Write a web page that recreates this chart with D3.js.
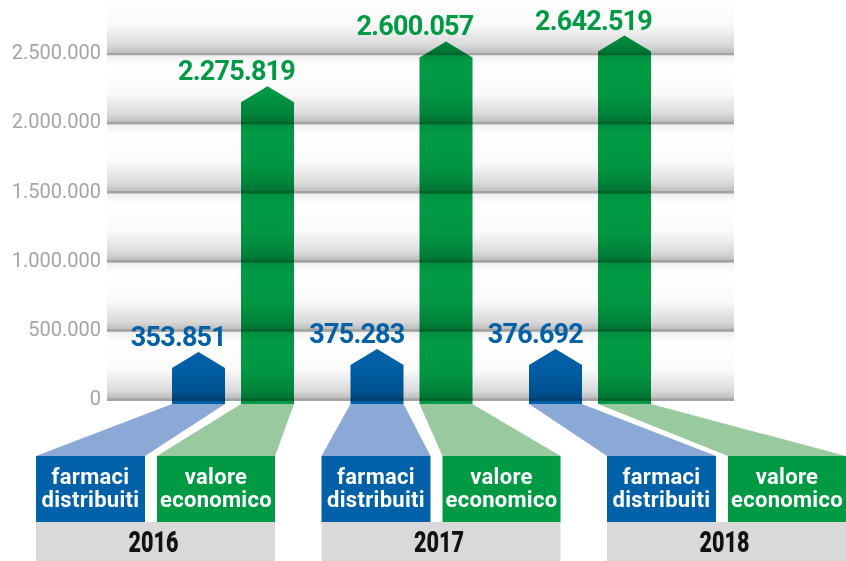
<!DOCTYPE html>
<html>
<head>
<meta charset="utf-8">
<script src="https://cdn.jsdelivr.net/npm/d3@7"></script>
<style>
  body { margin: 0; background: #fff; }
  svg { display: block; font-family: Roboto, 'Liberation Sans', sans-serif; }
  .bar { mix-blend-mode: multiply; }
</style>
</head>
<body>
<svg width="846" height="561" viewBox="0 0 846 561"></svg>
<script>
const years = ['2016', '2017', '2018']
const farmaci = [353851, 375283, 376692]
const valore = [2275819, 2600057, 2642519]
const yTicks = [0, 500000, 1000000, 1500000, 2000000, 2500000]
const seriesLabels = [['farmaci', 'distribuiti'], ['valore', 'economico']]

const blue = '#0060a8'
const green = '#009a44'
const lightBlue = '#8ba9d6'
const lightGreen = '#99c99e'

window.onload = () => {
  const svg = d3.select('svg')
  const fmt = d3.formatLocale({ decimal: ',', thousands: '.', grouping: [3], currency: ['', '€'] }).format(',d')

  const plotLeft = 107, plotRight = 734
  const y = d3.scaleLinear().domain([0, 2900000]).range([401, 0])
  const xYear = d3.scalePoint().domain(years).range([233, 590])
  const xBox = d3.scalePoint().domain(years).range([36, 607])
  const barW = 53, barGap = 8, headH = 16
  const base = y(0) + 3
  const boxTop = 456, boxBottom = 522
  const blueBoxW = 109, greenBoxW = 118, boxGap = 12

  // band shading
  const defs = svg.append('defs')
  const grad = defs.append('linearGradient')
    .attr('id', 'band')
    .attr('x1', 0).attr('y1', 0).attr('x2', 0).attr('y2', 1)
  const stops = [
    [0, '#f0f0f0'], [0.15, '#ffffff'], [0.55, '#fafafa'],
    [0.85, '#dadada'], [0.96, '#bebebe'], [0.965, '#a4a4a4'], [1, '#a4a4a4']
  ]
  grad.selectAll('stop')
    .data(stops)
    .enter()
    .append('stop')
    .attr('offset', d => d[0])
    .attr('stop-color', d => d[1])

  svg.append('g')
    .selectAll('rect')
    .data(yTicks)
    .enter()
    .append('rect')
    .attr('x', plotLeft)
    .attr('width', plotRight - plotLeft)
    .attr('y', d => y(d + 500000))
    .attr('height', d => y(d) - y(d + 500000))
    .attr('fill', 'url(#band)')

  // axis labels
  svg.append('g')
    .selectAll('text')
    .data(yTicks)
    .enter()
    .append('text')
    .attr('x', 101)
    .attr('y', d => y(d) + 4)
    .attr('text-anchor', 'end')
    .attr('font-size', 20)
    .attr('fill', '#a4a4a4')
    .text(d => fmt(d))

  const rows = years.map((yr, i) => ({ year: yr, farmaci: farmaci[i], valore: valore[i] }))

  const bars = []
  rows.forEach(r => {
    const c = xYear(r.year)
    bars.push({ year: r.year, value: r.farmaci, x0: c - barGap - barW, x1: c - barGap, color: blue, light: lightBlue, kind: 0 })
    bars.push({ year: r.year, value: r.valore, x0: c + barGap, x1: c + barGap + barW, color: green, light: lightGreen, kind: 1 })
  })

  const boxX = d => d.kind === 0 ? xBox(d.year) : xBox(d.year) + blueBoxW + boxGap
  const boxW = d => d.kind === 0 ? blueBoxW : greenBoxW

  // projections from bar foot to label box
  svg.append('g')
    .selectAll('path')
    .data(bars)
    .enter()
    .append('path')
    .attr('fill', d => d.light)
    .attr('d', d => `M${d.x0},${base}L${d.x1},${base}L${boxX(d) + boxW(d)},${boxTop}L${boxX(d)},${boxTop}Z`)

  // arrow bars
  svg.append('g')
    .selectAll('path')
    .data(bars)
    .enter()
    .append('path')
    .attr('class', 'bar')
    .attr('fill', d => d.color)
    .attr('d', d => {
      const top = y(d.value)
      const mid = (d.x0 + d.x1) / 2
      return `M${d.x0},${base}L${d.x0},${top + headH}L${mid},${top}L${d.x1},${top + headH}L${d.x1},${base}Z`
    })

  svg.append('g')
    .selectAll('text')
    .data(bars)
    .enter()
    .append('text')
    .attr('x', d => d.x1 + 1)
    .attr('y', d => y(d.value) - 6)
    .attr('text-anchor', 'end')
    .attr('font-size', 27)
    .attr('font-weight', 700)
    .attr('letter-spacing', -0.8)
    .attr('fill', d => d.color)
    .text(d => fmt(d.value))

  // year boxes
  const yg = svg.append('g')
    .selectAll('g')
    .data(years)
    .enter()
    .append('g')

  yg.append('rect')
    .attr('x', d => xBox(d))
    .attr('y', boxBottom)
    .attr('width', blueBoxW + boxGap + greenBoxW)
    .attr('height', 561 - boxBottom)
    .attr('fill', '#d9d9d9')

  yg.append('text')
    .attr('transform', d => `translate(${xBox(d) + (blueBoxW + boxGap + greenBoxW) / 2 - 2},552) scale(0.72,1)`)
    .attr('text-anchor', 'middle')
    .attr('font-size', 30)
    .attr('font-weight', 900)
    .attr('fill', '#111')
    .text(d => d)

  // series label boxes
  const lb = svg.append('g')
    .selectAll('g')
    .data(bars)
    .enter()
    .append('g')

  lb.append('rect')
    .attr('x', boxX)
    .attr('y', boxTop)
    .attr('width', boxW)
    .attr('height', boxBottom - boxTop)
    .attr('fill', d => d.color)

  lb.selectAll('text')
    .data(d => seriesLabels[d.kind].map((t, i) => ({ t, i, cx: boxX(d) + boxW(d) / 2 })))
    .enter()
    .append('text')
    .attr('x', d => d.cx)
    .attr('y', d => 484 + d.i * 23)
    .attr('text-anchor', 'middle')
    .attr('font-size', 22)
    .attr('font-weight', 700)
    .attr('letter-spacing', 0.3)
    .attr('fill', '#fff')
    .text(d => d.t)
}
</script>
</body>
</html>
